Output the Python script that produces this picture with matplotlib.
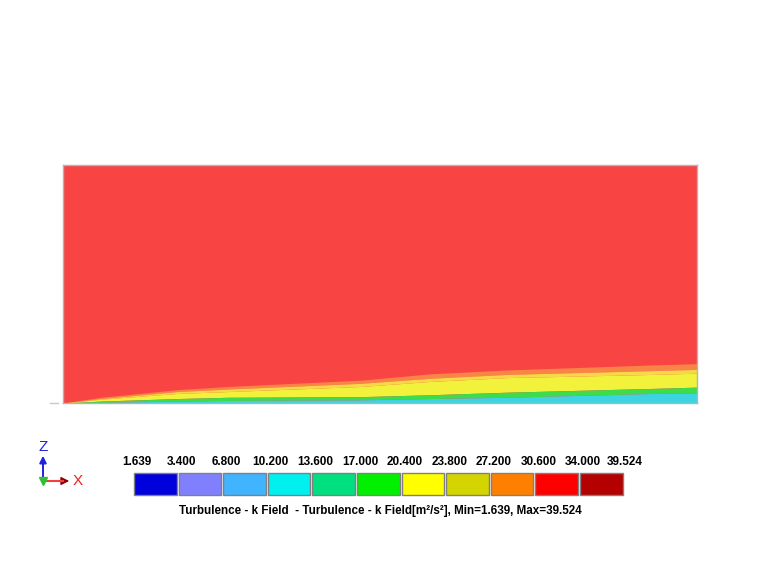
import matplotlib.pyplot as plt
from matplotlib.patches import Rectangle, FancyArrowPatch
from matplotlib.lines import Line2D

# stations along the wall (m) and band tops (m)
station_x = [0.0, 0.6, 1.8, 2.6, 4.7, 5.8, 7.0, 9.3, 10.0]
cyan_top = [0.0, 0.01, 0.03, 0.04, 0.05, 0.07, 0.09, 0.15, 0.16]
green_top = [0.0, 0.03, 0.07, 0.09, 0.10, 0.13, 0.17, 0.23, 0.25]
yellow_top = [0.0, 0.06, 0.15, 0.18, 0.26, 0.34, 0.40, 0.45, 0.47]
orange_top = [0.0, 0.07, 0.18, 0.22, 0.31, 0.39, 0.45, 0.51, 0.53]
fade_top = [0.0, 0.09, 0.21, 0.26, 0.36, 0.46, 0.52, 0.60, 0.62]
domain_len = 10.0
domain_h = 3.75

# legend
legend_values = ['1.639', '3.400', '6.800', '10.200', '13.600', '17.000',
                 '20.400', '23.800', '27.200', '30.600', '34.000', '39.524']
legend_colors = ['#0000DD', '#8080FF', '#40B4FF', '#00F0F0', '#00E080', '#00F000',
                 '#FFFF00', '#D4D400', '#FF8000', '#FF0000', '#B40000']
title = 'Turbulence - k Field  - Turbulence - k Field[m²/s²], Min=1.639, Max=39.524'

W, H = 760, 570
fig = plt.figure(figsize=(7.6, 5.7), dpi=100)
plt.rcParams['font.family'] = ['Liberation Sans', 'DejaVu Sans']

# flow domain
ax = fig.add_axes([63 / W, 1 - 403 / H, 634 / W, 238 / H])
ax.set_facecolor('#F94444')
ax.fill_between(station_x, orange_top, fade_top, color='#F8A048', lw=0, alpha=0.7)
ax.fill_between(station_x, yellow_top, orange_top, color='#F8D848', lw=0)
ax.fill_between(station_x, green_top, yellow_top, color='#F2F23C', lw=0)
ax.fill_between(station_x, cyan_top, green_top, color='#3CDC4C', lw=0)
ax.fill_between(station_x, 0, cyan_top, color='#3CD4E0', lw=0)
ax.set_xlim(0, domain_len)
ax.set_ylim(0, domain_h)
ax.set_xticks([])
ax.set_yticks([])
for s in ax.spines.values():
    s.set_color('#A8B8BC')
    s.set_linewidth(1)

# little mark left of the domain
fig.add_artist(Line2D([50 / W, 58 / W], [1 - 403 / H] * 2, color='#C8C8C8', lw=1))

# colour legend
x0, bw, gap, y_top, bh = 134, 42.6, 2.0, 473, 22
for i, c in enumerate(legend_colors):
    x = x0 + i * (bw + gap)
    fig.add_artist(Rectangle((x / W, 1 - (y_top + bh) / H), bw / W, bh / H,
                             facecolor=c, edgecolor='#808080', lw=1))
for i, v in enumerate(legend_values):
    x = x0 + i * (bw + gap) + 3
    if i == len(legend_values) - 1:
        x = x0 + 11 * (bw + gap)
    fig.text(x / W, 1 - 462 / H, v, ha='center', va='center',
             fontsize=8.5, fontweight='bold')
fig.text(380 / W, 1 - 511 / H, title, ha='center', va='center',
         fontsize=8.4, fontweight='bold')

# axis triad
ox, oy = 43, 481
fig.add_artist(FancyArrowPatch((ox / W, 1 - oy / H), (ox / W, 1 - 453 / H),
                               arrowstyle='-|>', mutation_scale=10,
                               color='#2020E0', lw=1.4))
fig.add_artist(Line2D([ox / W, 63 / W], [1 - oy / H] * 2, color='#F04040', lw=1.5))
fig.add_artist(FancyArrowPatch((60 / W, 1 - oy / H), (72 / W, 1 - oy / H),
                               arrowstyle='-|>', mutation_scale=12,
                               color='#900000', lw=1))
fig.add_artist(Line2D([ox / W], [1 - oy / H], marker='v', markersize=6,
                      color='#30C030', lw=0))
fig.text(ox / W, 1 - 447 / H, 'Z', color='#2020E0', ha='center', va='center',
         fontsize=11)
fig.text(78 / W, 1 - 481 / H, 'X', color='#F02020', ha='center', va='center',
         fontsize=11)

fig.savefig('out.png', dpi=100)
